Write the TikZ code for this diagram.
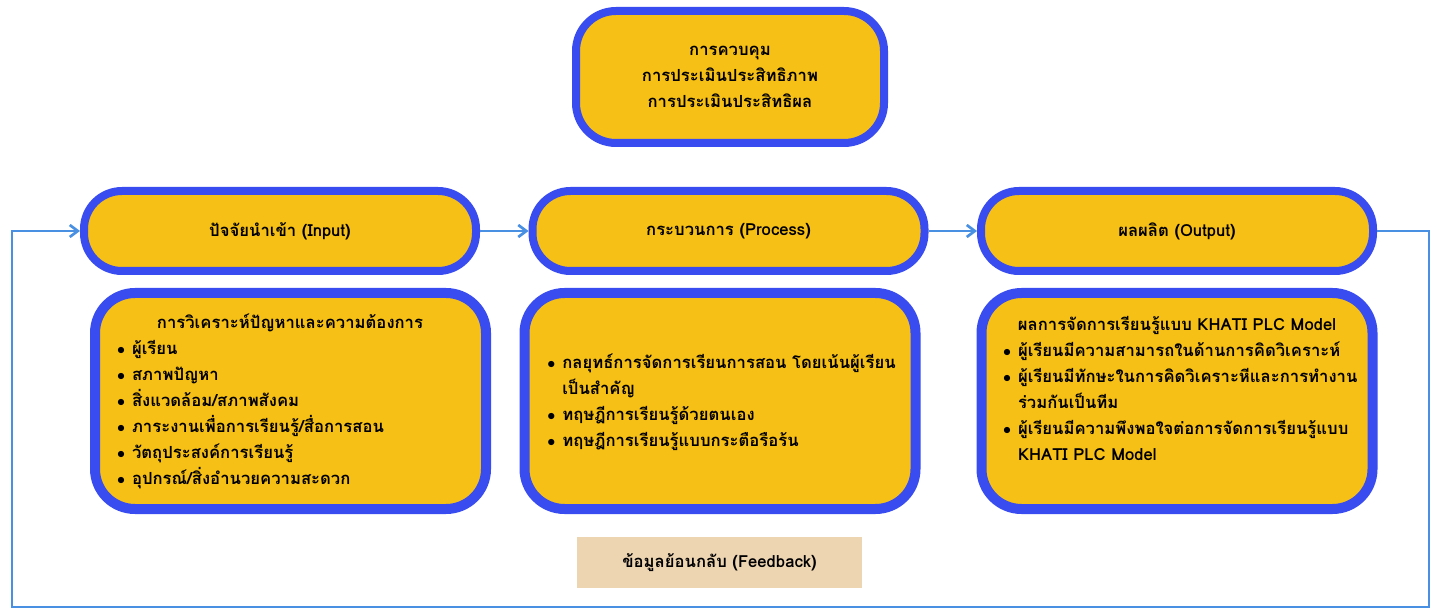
\documentclass[tikz,border=0pt]{standalone}
\usepackage{fontspec}
\usepackage{tikz}
\usetikzlibrary{arrows.meta}
\newfontfamily\thaifont[Script=Thai]{Loma}
\newcommand\hd[1]{\hbox to\hsize{\hss#1\hss}}
\newcommand\itm[1]{\hbox to\hsize{\hbox to 11.25pt{$\bullet$\hss}#1\hss}}
\newcommand\cnt[1]{\hbox to\hsize{\hskip 11.25pt #1\hss}}

\tikzset{
  thaitext/.style={font=\thaifont\bfseries\fontsize{12.5}{19.5}\selectfont},
  headbox/.style={thaitext, draw={rgb, 255:red, 56; green, 76; blue, 240}, line width=6pt,
    fill={rgb, 255:red, 246; green, 192; blue, 22}, rounded corners=28.5pt,
    minimum width=294pt, minimum height=60pt, align=center},
  bodybox/.style={draw={rgb, 255:red, 56; green, 76; blue, 240}, line width=7.5pt,
    fill={rgb, 255:red, 246; green, 192; blue, 22}, rounded corners=30pt,
    minimum width=293.25pt, minimum height=162pt},
  listtext/.style={thaitext, inner sep=0pt, align=left},
  flowline/.style={color={rgb, 255:red, 74; green, 144; blue, 226}, line width=2pt},
  flowarrow/.style={flowline, -{Straight Barb[length=6pt,width=9pt]}}
}

\begin{document}
\begin{tikzpicture}[x=0.75pt,y=0.75pt,yscale=-1,xscale=1]
\useasboundingbox (0,0) rectangle (1434,609);

%Shape: top box
\node [headbox, minimum width=231pt, minimum height=99pt, rounded corners=30pt] (control) at (730,77)
  {การควบคุม\\การประเมินประสิทธิภาพ\\การประเมินประสิทธิผล};

%Shape: header boxes
\node [headbox] (input) at (280,231) {ปัจจัยนำเข้า (Input)};
\node [headbox] (process) at (728.5,231) {กระบวนการ (Process)};
\node [headbox] (output) at (1177,231) {ผลผลิต (Output)};

%Shape: body boxes
\node [bodybox] (inbody) at (290.5,401) {};
\node [bodybox] (probody) at (720,401) {};
\node [bodybox] (outbody) at (1177,401) {};

% Text Node
\node [listtext, text width=259.5pt] (intext) at (290,401) {%
  \hd{การวิเคราะห์ปัญหาและความต้องการ}
  \itm{ผู้เรียน}
  \itm{สภาพปัญหา}
  \itm{สิ่งแวดล้อม/สภาพสังคม}
  \itm{ภาระงานเพื่อการเรียนรู้/สื่อการสอน}
  \itm{วัตถุประสงค์การเรียนรู้}
  \itm{อุปกรณ์/สิ่งอำนวยความสะดวก}};
% Text Node
\node [listtext, text width=262.5pt, anchor=west] (protext) at (547,402) {%
  \itm{กลยุทธ์การจัดการเรียนการสอน โดยเน้นผู้เรียน}
  \cnt{เป็นสำคัญ}
  \itm{ทฤษฎีการเรียนรู้ด้วยตนเอง}
  \itm{ทฤษฎีการเรียนรู้แบบกระตือรือร้น}};
% Text Node
\node [listtext, text width=261pt] (outtext) at (1177,388) {%
  \hd{ผลการจัดการเรียนรู้แบบ KHATI PLC Model}
  \itm{ผู้เรียนมีความสามารถในด้านการคิดวิเคราะห์}
  \itm{ผู้เรียนมีทักษะในการคิดวิเคราะหีและการทำงาน}
  \cnt{ร่วมกันเป็นทีม}
  \itm{ผู้เรียนมีความพึงพอใจต่อการจัดการเรียนรู้แบบ}
  \cnt{KHATI PLC Model}};

%Shape: feedback label
\node [thaitext, fill={rgb, 255:red, 238; green, 213; blue, 178}, minimum width=213.75pt, minimum height=38.25pt] (feedback) at (719.5,562.5) {ข้อมูลย้อนกลับ (Feedback)};

%Straight Lines
\draw [flowarrow] (input) -- (process);
\draw [flowarrow] (process) -- (output);

%Feedback loop
\coordinate (fbne) at (1429,231);
\coordinate (fbse) at (1429,607);
\coordinate (fbsw) at (12,607);
\coordinate (fbnw) at (12,231);
\draw [flowarrow] (output.east) -- (fbne) -- (fbse) -- (fbsw) -- (fbnw) -- (input.west);
\end{tikzpicture}
\end{document}
